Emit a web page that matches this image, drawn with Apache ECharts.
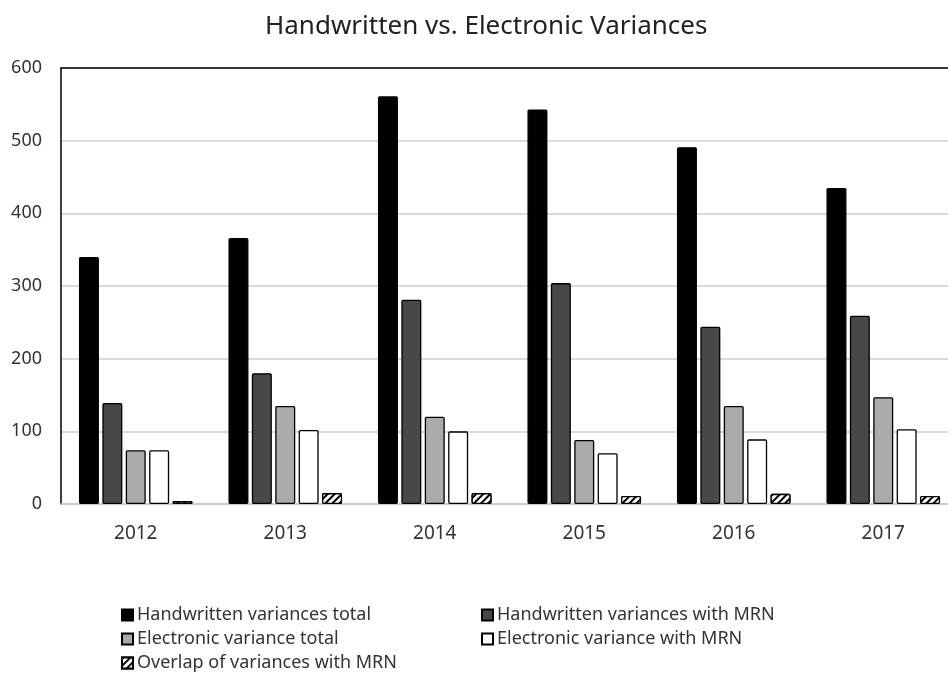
<!DOCTYPE html>
<html>
<head>
<meta charset="utf-8">
<script src="https://cdn.jsdelivr.net/npm/echarts@6/dist/echarts.min.js"></script>
<style>html,body{margin:0;padding:0;background:#fff;overflow:hidden;}#c{width:948px;height:673px;}</style>
</head>
<body>
<div id="c"></div>
<script>
var years = ['2012', '2013', '2014', '2015', '2016', '2017'];
var seriesNames = ['Handwritten variances total', 'Handwritten variances with MRN', 'Electronic variance total', 'Electronic variance with MRN', 'Overlap of variances with MRN'];
var handwrittenTotal = [340, 366, 561, 543, 491, 435];
var handwrittenMRN = [139, 180, 281, 304, 244, 259];
var electronicTotal = [74, 135, 120, 88, 135, 147];
var electronicMRN = [74, 102, 100, 70, 89, 103];
var overlapMRN = [4, 15, 15, 11, 14, 11];
var yTicks = [0, 100, 200, 300, 400, 500, 600];

var FONT = '"Noto Sans", "Open Sans", sans-serif';
var values = [handwrittenTotal, handwrittenMRN, electronicTotal, electronicMRN, overlapMRN];
var fills = ['#000000', '#484848', '#ababab', '#ffffff', '#ffffff'];

var hatch = {
  symbol: 'rect',
  color: '#000000',
  backgroundColor: '#ffffff',
  dashArrayX: [1, 0],
  dashArrayY: [1.5, 2.5],
  rotation: -Math.PI / 4
};

var series = seriesNames.map(function (n, i) {
  var st = { color: fills[i], borderColor: '#000', borderWidth: 1.3, borderRadius: 1 };
  if (i === 4) st.decal = hatch;
  return {
    name: n,
    type: 'bar',
    data: values[i],
    barWidth: 20,
    barGap: '17%',
    itemStyle: st,
    emphasis: { disabled: true }
  };
});

var legendPos = [
  { left: 121, top: 606 },
  { left: 481, top: 606 },
  { left: 121, top: 630 },
  { left: 481, top: 630 },
  { left: 121, top: 654 }
];
var legends = seriesNames.map(function (n, i) {
  return {
    data: [n],
    left: legendPos[i].left,
    top: legendPos[i].top,
    icon: 'rect',
    itemWidth: 11,
    itemHeight: 11,
    itemGap: 6,
    padding: 0,
    selectedMode: false,
    textStyle: { fontFamily: FONT, fontSize: 18, color: '#333', padding: [0, 0, 0, -1] }
  };
});

var chart = echarts.init(document.getElementById('c'));
chart.setOption({
  backgroundColor: '#fff',
  animation: false,
  title: {
    text: 'Handwritten vs. Electronic Variances',
    left: 265,
    top: 14,
    padding: 0,
    textStyle: { fontFamily: FONT, fontSize: 26, fontWeight: 'normal', color: '#222' }
  },
  legend: legends,
  grid: { left: 61, top: 68, bottom: 169, width: 897, containLabel: false, outerBoundsMode: 'none' },
  xAxis: [{
    type: 'category',
    data: years,
    axisLine: { show: true, lineStyle: { color: '#c8c8c8', width: 1.5 } },
    axisTick: { show: false },
    axisLabel: { fontFamily: FONT, fontSize: 19, color: '#333', margin: 20 }
  }, {
    type: 'category',
    data: years,
    position: 'top',
    axisLine: { show: true, lineStyle: { color: '#000', width: 1.5 } },
    axisTick: { show: false },
    axisLabel: { show: false }
  }],
  yAxis: {
    type: 'value',
    min: yTicks[0],
    max: yTicks[yTicks.length - 1],
    interval: 100,
    axisLine: { show: true, lineStyle: { color: '#000', width: 1.5 } },
    axisTick: { show: false },
    axisLabel: { fontFamily: FONT, fontSize: 18, color: '#333', margin: 19 },
    splitLine: { show: true, lineStyle: { color: '#cfcfcf', width: 1.5 } }
  },
  series: series
});
</script>
</body>
</html>
